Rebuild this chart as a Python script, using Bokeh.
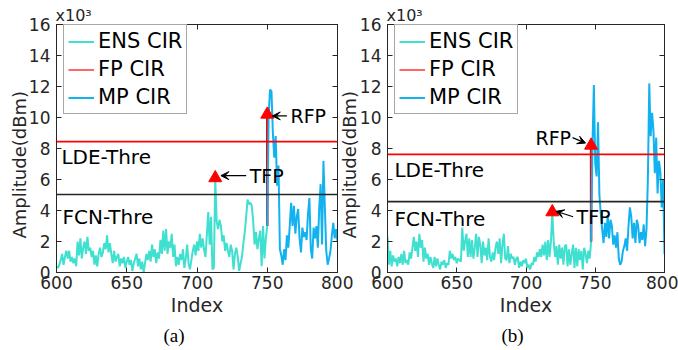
import math
from bokeh.plotting import figure
from bokeh.models import (Label, Legend, LegendItem, LinearAxis, FixedTicker,
                          Arrow, VeeHead, Range1d, Span, Title)
from bokeh.layouts import row
from bokeh.embed import file_html
from bokeh.resources import INLINE

# ---------------- data ----------------
x_ticks = [600, 650, 700, 750, 800]
x_tick_labels = ["600", "650", "700", "750", "800"]
y_ticks = [0, 2, 4, 6, 8, 10, 12, 14, 16]
y_tick_labels = ["0", "2", "4", "6", "8", "10", "12", "14", "16"]
series_names = ["ENS CIR", "FP CIR", "MP CIR"]
x_label = "Index"
y_label = "Amplitude(dBm)"
y_scale_text = "x10\u00b3"
thr_names = ["LDE-Thre", "FCN-Thre"]
peak_names = ["TFP", "RFP"]
captions = ["(a)", "(b)"]

# panel (a)  (amplitudes in x10^3)
ens_start_a = 600
ens_a = [0.4, 0.3, 0.5, 0.8, 1.2, 0.5, 1.0, 1.4, 0.9, 1.4,
         0.7, 1.0, 0.6, 0.9, 0.4, 2.0, 1.1, 2.2, 0.9, 1.6,
         2.0, 1.2, 2.3, 1.4, 1.6, 1.0, 1.4, 0.5, 1.1, 0.4,
         1.2, 1.6, 1.0, 1.3, 1.9, 1.5, 2.4, 1.3, 1.9, 1.2,
         0.6, 1.4, 0.7, 1.0, 1.2, 0.4, 0.9, 0.6, 1.0, 0.3,
         0.7, 1.0, 0.5, 0.8, 0.1, 0.6, 0.9, 1.2, 0.4, 0.9,
         0.2, 0.7, 0.0, 0.6, 1.2, 0.8, 1.4, 0.7, 1.8, 1.0,
         1.5, 0.6, 1.3, 0.9, 2.1, 1.2, 2.7, 1.4, 2.8, 1.2,
         2.0, 1.6, 2.5, 1.0, 1.8, 0.4, 1.0, 0.5, 1.2, 0.8,
         1.5, 0.3, 0.9, 1.8, 0.6, 0.2, 0.8, 1.4, 1.8, 1.1,
         2.0, 1.4, 2.5, 1.6, 2.2, 1.5, 1.0, 2.4, 3.9, 1.8,
         3.6, 0.2, 0.3, 6.1, 3.3, 2.8, 3.4, 3.0, 2.0, 2.4,
         1.4, 1.9, 1.4, 1.0, 1.8, 1.4, 0.2, 1.2, 1.6, 1.0,
         0.1, 0.6, 1.0, 1.9, 2.6, 3.6, 4.7, 4.4, 4.5, 4.3,
         3.3, 1.8, 2.6, 1.5, 2.2, 2.7, 0.4, 3.0, 0.9, 2.2,
         3.0]
mp_start_a = 750
mp_a = [3.0, 10.2, 11.8, 11.7, 9.0, 7.4, 8.8, 5.6, 6.9, 1.5,
        1.1, 0.5, 1.5, 0.8, 2.4, 1.6, 3.0, 4.5, 3.0, 4.3,
        2.5, 3.6, 4.1, 2.2, 1.3, 2.9, 2.3, 2.6, 2.1, 3.8,
        4.8, 1.5, 0.9, 2.9, 2.2, 3.0, 1.6, 4.2, 5.7, 1.8,
        7.2, 4.2, 1.4, 0.5, 0.9, 1.4, 2.4, 3.2, 2.2, 2.8,
        2.0]
fp_idx_a = [750, 750]
fp_val_a = [3.0, 10.2]
tfp_a = [713, 6.1]
rfp_a = [750, 10.2]
lde_a = 8.45
fcn_a = 5.03

# panel (b)
ens_start_b = 600
ens_b = [2.3, 0.5, 1.4, 0.4, 1.1, 0.7, 0.9, 0.4, 1.0, 0.6,
         1.2, 0.5, 1.4, 0.6, 0.8, 0.5, 1.3, 0.9, 1.6, 2.3,
         1.4, 2.0, 1.0, 2.5, 1.6, 2.1, 0.7, 1.6, 0.9, 1.2,
         0.5, 1.0, 0.6, 0.3, 1.0, 0.4, 0.9, 0.5, 0.2, 0.7,
         0.5, 0.8, 0.3, 0.6, 0.5, 1.4, 0.9, 1.2, 0.8, 1.0,
         0.6, 0.9, 0.8, 0.7, 2.9, 1.4, 2.0, 2.5, 1.0, 2.2,
         1.0, 2.1, 0.9, 1.6, 2.5, 1.0, 2.3, 1.8, 0.6, 2.0,
         1.1, 1.6, 0.8, 2.2, 1.0, 0.7, 1.3, 0.8, 1.6, 2.0,
         1.2, 2.2, 0.6, 1.8, 2.5, 0.9, 0.8, 1.7, 0.6, 1.2,
         0.9, 1.0, 0.5, 0.9, 1.0, 0.3, 0.7, 0.4, 0.8, 0.6,
         0.9, 0.3, 0.5, 0.2, 0.6, 0.5, 1.0, 0.7, 1.3, 1.0,
         1.5, 1.0, 1.8, 1.1, 2.0, 0.8, 2.1, 1.0, 2.0, 3.9,
         2.0, 1.0, 1.7, 0.5, 1.8, 0.9, 1.6, 0.5, 1.7, 1.8,
         0.4, 1.5, 0.5, 1.2, 1.8, 0.3, 1.6, 0.4, 1.5, 0.8,
         1.4, 0.2, 1.6, 1.2, 0.6, 1.4, 0.9, 2.0]
mp_start_b = 747
mp_b = [2.0, 8.2, 12.1, 7.0, 6.2, 9.7, 5.0, 3.8, 2.8, 1.9,
        3.2, 2.3, 3.7, 2.2, 3.4, 3.0, 1.8, 2.4, 1.6, 2.6,
        0.9, 0.5, 0.7, 1.4, 1.7, 2.2, 1.4, 3.0, 4.2, 3.6,
        2.2, 3.2, 1.9, 3.4, 3.0, 1.9, 2.6, 2.1, 3.1, 1.7,
        2.8, 6.0, 12.2, 8.8, 10.3, 9.2, 6.4, 8.7, 5.1, 7.2,
        6.5, 4.2, 6.0, 1.2]
fp_idx_b = [747, 747]
fp_val_b = [2.0, 8.2]
tfp_b = [719, 3.9]
rfp_b = [747, 8.2]
lde_b = 7.62
fcn_b = 4.57

# ---------------- style ----------------
SANS = "DejaVu Sans"
SERIF = "Liberation Serif"
ENS_C = "#40E0D0"
MP_C = "#12B2F0"
FP_C = "#FF0000"
AX_C = "#262626"


def make_panel(ens_start, ens, mp_start, mp, fp_idx, fp_val, tfp, rfp, lde, fcn,
               caption, lay):
    p = figure(width=lay["w"], height=350, x_range=Range1d(600, 800),
               y_range=Range1d(0, 16), output_backend="svg", toolbar_location=None,
               min_border_left=lay["bl"], min_border_right=lay["br"],
               min_border_top=24, min_border_bottom=78, margin=lay["margin"])
    p.grid.visible = False
    p.outline_line_color = AX_C
    p.outline_line_width = 1
    p.background_fill_color = "white"
    p.border_fill_color = "white"
    p.border_fill_alpha = lay["bfa"]

    for ax, ticks, labels in ((p.xaxis[0], x_ticks, x_tick_labels),
                              (p.yaxis[0], y_ticks, y_tick_labels)):
        ax.ticker = FixedTicker(ticks=ticks)
        ax.major_label_overrides = {t: l for t, l in zip(ticks, labels)}
        ax.major_tick_in = 5
        ax.major_tick_out = 0
        ax.minor_tick_in = 0
        ax.minor_tick_out = 0
        ax.axis_line_color = AX_C
        ax.major_tick_line_color = AX_C
        ax.major_label_text_font = SANS
        ax.major_label_text_font_size = "17px"
        ax.major_label_text_color = AX_C
    p.xaxis[0].major_label_standoff = 3
    p.yaxis[0].major_label_standoff = 6
    p.xaxis[0].axis_label = x_label
    p.xaxis[0].axis_label_text_font = SANS
    p.xaxis[0].axis_label_text_font_size = "19px"
    p.xaxis[0].axis_label_text_font_style = "normal"
    p.xaxis[0].axis_label_text_color = AX_C
    p.xaxis[0].axis_label_standoff = 2

    # mirrored inward ticks on the top and right edges (no labels)
    for place, ticks in (("right", y_ticks), ("above", x_ticks)):
        ax = LinearAxis(ticker=FixedTicker(ticks=ticks),
                        major_label_overrides={t: "" for t in ticks},
                        major_label_standoff=0, major_tick_in=5, major_tick_out=0,
                        minor_tick_in=0, minor_tick_out=0, axis_line_color=AX_C,
                        major_tick_line_color=AX_C)
        p.add_layout(ax, place)

    # y-axis label, exponent, caption as titles in the side panels
    p.add_layout(Title(text=y_label, align="left", offset=lay["ylab_off"],
                       standoff=lay["ylab_standoff"], text_font=SANS,
                       text_font_size="18px", text_font_style="normal",
                       text_color=AX_C), "left")
    p.add_layout(Title(text=y_scale_text, align="left", offset=-1, standoff=0,
                       text_font=SANS, text_font_size="16px", text_font_style="normal",
                       text_color=AX_C), "above")
    p.add_layout(Title(text=caption, align="left", offset=lay["cap_off"], standoff=8,
                       text_font=SERIF, text_font_size="19px", text_font_style="normal",
                       text_color="black"), "below")

    # thresholds
    p.add_layout(Span(location=lde, dimension="width", line_color=FP_C, line_width=1.8))
    p.add_layout(Span(location=fcn, dimension="width", line_color=AX_C, line_width=1.6))

    ens_x = list(range(ens_start, ens_start + len(ens)))
    mp_x = list(range(mp_start, mp_start + len(mp)))
    r_ens = p.line(ens_x, ens, line_color=ENS_C, line_width=2)
    p.line(fp_idx, fp_val, line_color=FP_C, line_width=2.5)
    r_fp_leg = p.line(fp_idx, fp_val, line_color=FP_C, line_width=1.2)
    r_mp = p.line(mp_x, mp, line_color=MP_C, line_width=2)
    p.scatter([tfp[0], rfp[0]], [tfp[1], rfp[1]], marker="triangle", size=13,
              fill_color=FP_C, line_color=FP_C)

    # arrows & peak labels
    for (xs, ys, xe, ye) in lay["arrows"]:
        p.add_layout(Arrow(end=VeeHead(size=8, fill_color="black", line_color="black",
                                       line_width=1),
                           x_start=xs, y_start=ys, x_end=xe, y_end=ye,
                           line_color="black", line_width=1.2))
    for (txt, x, y, align) in lay["texts"]:
        p.add_layout(Label(x=x, y=y, text=txt, text_font=SANS, text_font_size="19px",
                           text_align=align, text_baseline="middle", text_color="black"))
    for (txt, x, y) in lay["thr_texts"]:
        p.add_layout(Label(x=x, y=y, text=txt, text_font=SANS, text_font_size="20px",
                           text_align="left", text_baseline="middle", text_color="black"))

    legend = Legend(items=[LegendItem(label=series_names[0], renderers=[r_ens]),
                           LegendItem(label=series_names[1], renderers=[r_fp_leg]),
                           LegendItem(label=series_names[2], renderers=[r_mp])],
                    location=(7, 158), margin=0, padding=4, spacing=4,
                    label_height=23, glyph_height=23, glyph_width=26,
                    label_standoff=4, label_text_font=SANS,
                    label_text_font_size="21px", label_text_color="black",
                    border_line_color="#505050", border_line_width=1.2,
                    background_fill_color="white", background_fill_alpha=1)
    p.add_layout(legend)
    return p


lay_a = dict(w=353, bl=56, br=16, margin=(0, 0, 0, 0), bfa=1.0,
             arrows=[(735, 6.25, 717, 6.25), (764, 10.1, 753.6, 10.1)],
             texts=[(peak_names[0], 737.5, 6.25, "left"), (peak_names[1], 766.5, 10.1, "left")],
             thr_texts=[(thr_names[0], 603.5, 7.44), (thr_names[1], 604.3, 3.57)],
             ylab_off=34, ylab_standoff=-8, cap_off=107)
lay_b = dict(w=339, bl=47, br=14, margin=(0, 0, 0, -14), bfa=0.0,
             arrows=[(733.6, 8.7, 743, 8.35), (734, 3.6, 721.6, 3.95)],
             texts=[(peak_names[1], 732.5, 8.7, "right"), (peak_names[0], 736.5, 3.57, "left")],
             thr_texts=[(thr_names[0], 605, 6.6), (thr_names[1], 605, 3.45)],
             ylab_off=34, ylab_standoff=-6, cap_off=114)

pa = make_panel(ens_start_a, ens_a, mp_start_a, mp_a, fp_idx_a, fp_val_a, tfp_a, rfp_a,
                lde_a, fcn_a, captions[0], lay_a)
pb = make_panel(ens_start_b, ens_b, mp_start_b, mp_b, fp_idx_b, fp_val_b, tfp_b, rfp_b,
                lde_b, fcn_b, captions[1], lay_b)

layout = row(pa, pb)
open("out.html", "w").write(file_html(layout, INLINE))
